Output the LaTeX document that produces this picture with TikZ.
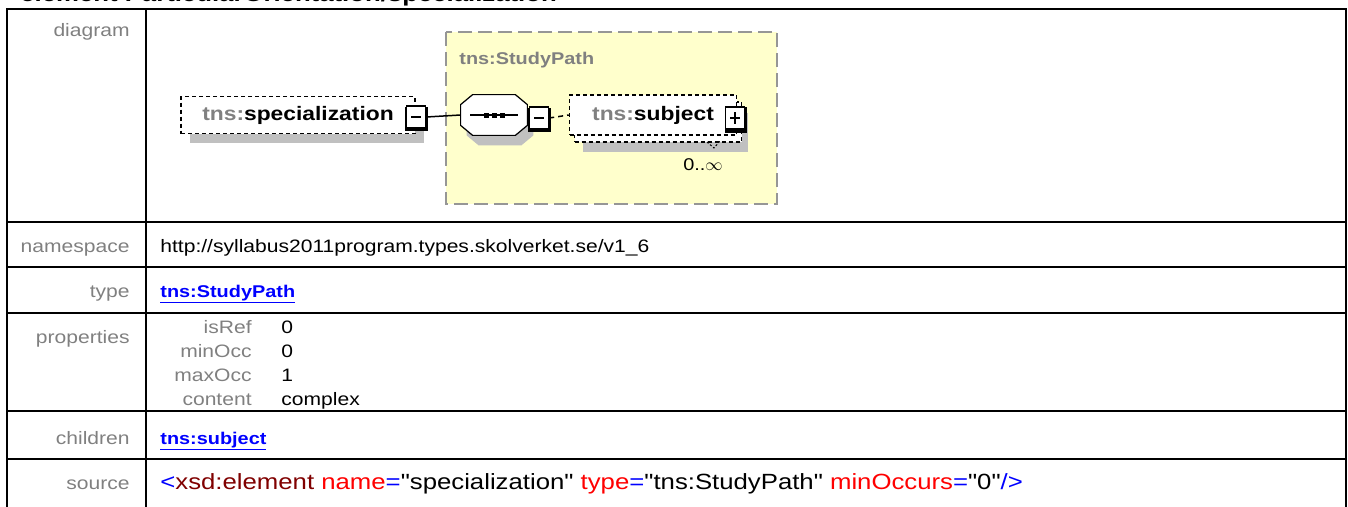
\documentclass[tikz,border=0pt]{standalone}
\usepackage{fontspec}
\setmainfont{Liberation Sans}[FakeStretch=1.17]
\newfontfamily\srcfont{Liberation Sans}[FakeStretch=1.17]

\definecolor{lblgray}{RGB}{128,128,128}
\definecolor{shadowgray}{RGB}{192,192,192}
\definecolor{typeyellow}{RGB}{255,255,204}
\definecolor{typeborder}{RGB}{150,150,150}
\definecolor{linkblue}{RGB}{0,0,255}
\definecolor{tagred}{RGB}{128,0,0}
\definecolor{attrred}{RGB}{255,0,0}

\tikzset{every picture/.style={line width=0.75pt}}
\tikzset{
  tabline/.style={line width=2pt},
  lbl/.style={anchor=base east, inner sep=0pt, text=lblgray, font=\fontsize{18}{22}\selectfont},
  val/.style={anchor=base west, inner sep=0pt, font=\fontsize{18}{22}\selectfont},
  elbox/.style={draw, fill=white, line width=1.5pt, dash pattern=on 4pt off 3pt, inner sep=0pt,
    font=\fontsize{19.5}{22}\selectfont\bfseries},
  pmbox/.style={draw, fill=white, line width=1.5pt, minimum width=19pt, minimum height=22pt, inner sep=0pt},
  octagon/.style={insert path={
    ([shift={(12,0)}]#1.north west) -- ([shift={(-12,0)}]#1.north east) -- ([shift={(0,10)}]#1.north east)
    -- ([shift={(0,-10)}]#1.south east) -- ([shift={(-12,0)}]#1.south east) -- ([shift={(12,0)}]#1.south west)
    -- ([shift={(0,-10)}]#1.south west) -- ([shift={(0,10)}]#1.north west) -- cycle}}
}
\newcommand{\tnspre}{\textcolor{lblgray}{tns:}}

\begin{document}
\begin{tikzpicture}[x=1pt,y=1pt,yscale=-1,xscale=1]
\useasboundingbox (0,0) rectangle (1348,506);

% Text Node
\node (title) [anchor=base west, inner sep=0pt, font=\fontsize{22}{26}\selectfont\bfseries] at (20,1.5) {element ParticularOrientation/specialization};

%Shape: Table
\draw[tabline] (7,520) -- (7,8.5) -- (1346,8.5) -- (1346,520);
\draw[tabline] (146,8.5) -- (146,520);
\draw[tabline] (7,222) -- (1346,222);
\draw[tabline] (7,267) -- (1346,267);
\draw[tabline] (7,313) -- (1346,313);
\draw[tabline] (7,411) -- (1346,411);
\draw[tabline] (7,459) -- (1346,459);

% Row labels
\node (ldiagram) [lbl] at (130,36) {diagram};
\node (lnamespace) [lbl] at (130,252) {namespace};
\node (ltype) [lbl] at (130,297) {type};
\node (lproperties) [lbl] at (130,343) {properties};
\node (lchildren) [lbl] at (130,444) {children};
\node (lsource) [lbl] at (130,489) {source};

% Row values
\node (vnamespace) [val] at (160,252) {http://syllabus2011program.types.skolverket.se/v1\_6};
\node (vtype) [val, font=\fontsize{17}{22}\selectfont\bfseries, text=linkblue] at (160,297) {\underline{tns:StudyPath}};
\node (vchildren) [val, font=\fontsize{17}{22}\selectfont\bfseries, text=linkblue] at (160,444) {\underline{tns:subject}};
\node (vsource) [val, font=\srcfont\fontsize{22}{26}\selectfont] at (160,489) {\textcolor{linkblue}{<}\textcolor{tagred}{xsd:element} \textcolor{attrred}{name}\textcolor{linkblue}{=}"specialization" \textcolor{attrred}{type}\textcolor{linkblue}{=}"tns:StudyPath" \textcolor{attrred}{minOccurs}\textcolor{linkblue}{=}"0"\textcolor{linkblue}{/>}};

% Properties
\node (kisref) [lbl] at (252,333) {isRef};
\node (kminocc) [lbl] at (252,357) {minOcc};
\node (kmaxocc) [lbl] at (252,381) {maxOcc};
\node (kcontent) [lbl] at (252,405) {content};
\node (visref) [val] at (281,333) {0};
\node (vminocc) [val] at (281,357) {0};
\node (vmaxocc) [val] at (281,381) {1};
\node (vcontent) [val] at (281,405) {complex};

%Shape: Type box
\draw[fill=typeyellow, draw=typeborder, line width=2pt, dash pattern=on 14pt off 6pt] (446,32) rectangle (777,204);
\node (typename) [anchor=base west, inner sep=0pt, text=lblgray, font=\fontsize{17}{20}\selectfont\bfseries] at (459,64) {tns:StudyPath};

%Shape: specialization element
\coordinate (specpos) at (298,115);
\fill[shadowgray] ([shift={(-108,-9)}]specpos) rectangle ([shift={(126,28)}]specpos);
\node (spec) [elbox, minimum width=234pt, minimum height=37pt] at (specpos) {\tnspre specialization\hspace{7pt}};
\fill (405,107) rectangle (428,131);
\node (specminus) [pmbox] at (416,117) {};
\draw[line width=1.2pt] ([xshift=-5pt]specminus.center) -- ([xshift=5pt]specminus.center);

%Shape: sequence
\node (seqshadow) [minimum width=66pt, minimum height=40pt, inner sep=0pt] at (500,125) {};
\fill[shadowgray] [octagon=seqshadow];
\node (seq) [minimum width=66pt, minimum height=40pt, inner sep=0pt] at (494,115) {};
\draw[fill=white, line width=1.2pt] [octagon=seq];
\draw[line width=1.2pt] ([xshift=-24pt]seq.center) -- ([xshift=24pt]seq.center);
\foreach \dx in {-8,0,8}
  \fill ([shift={(\dx-2.5,-2.5)}]seq.center) rectangle ([shift={(\dx+2.5,2.5)}]seq.center);
\fill (528,108) rectangle (551,132);
\node (seqminus) [pmbox] at (539,118) {};
\draw[line width=1.2pt] ([xshift=-5pt]seqminus.center) -- ([xshift=5pt]seqminus.center);

%Shape: subject element
\coordinate (subjpos) at (653,115);
\fill[shadowgray] ([shift={(-70,-2)}]subjpos) rectangle ([shift={(95,37)}]subjpos);
\node (subjback) [elbox, minimum width=167pt, minimum height=40pt] at ([shift={(5,7)}]subjpos) {};
\node (subj) [elbox, minimum width=167pt, minimum height=40pt] at (subjpos) {\tnspre subject\hspace{22pt}};
\fill (725,107) rectangle (747,133);
\node (subjplus) [pmbox] at (735,118) {};
\draw[line width=1.2pt] ([xshift=-5pt]subjplus.center) -- ([xshift=5pt]subjplus.center);
\draw[line width=1.2pt] ([yshift=-6pt]subjplus.center) -- ([yshift=6pt]subjplus.center);
\draw[line width=1pt, dash pattern=on 2pt off 2pt] (707,142) -- (714,148) -- (720,141);
\node (occ) [anchor=base west, inner sep=0pt, font=\fontsize{17}{20}\selectfont] at (683,170) {0..$\infty$};

%Straight Lines
\draw[line width=1.5pt] (specminus.east) -- (seq.west);
\draw[line width=1.5pt, dash pattern=on 5pt off 4pt] (seqminus.east) -- (subj.west);

\end{tikzpicture}
\end{document}
